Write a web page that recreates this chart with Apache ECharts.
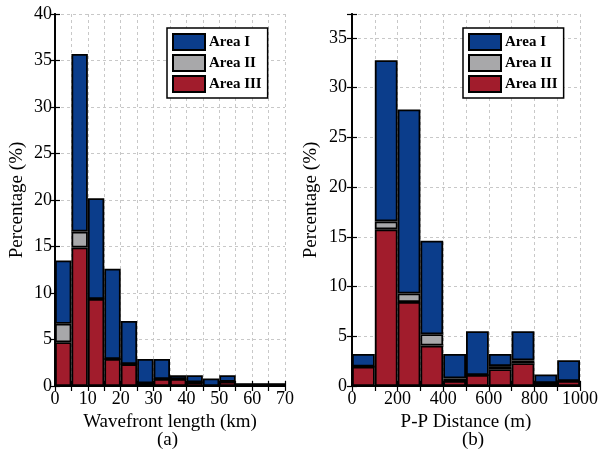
<!DOCTYPE html>
<html>
<head>
<meta charset="utf-8">
<script src="https://cdn.jsdelivr.net/npm/echarts@6/dist/echarts.min.js"></script>
<style>
html,body{margin:0;padding:0;background:#fff;}
#chart{width:601px;height:453px;}
</style>
</head>
<body>
<div id="chart"></div>
<script>
// ---- Data: panel (a) Wavefront length, 5 km bins ----
const binsA = ['0-5','5-10','10-15','15-20','20-25','25-30','30-35','35-40','40-45','45-50','50-55','55-60','60-65','65-70'];
const areaIII_A = [4.7, 14.9, 9.35, 2.9, 2.35, 0.3, 0.75, 0.75, 0.4, 0, 0.45, 0, 0, 0];
const areaII_A  = [2.0, 1.7, 0, 0, 0, 0, 0, 0, 0, 0, 0, 0, 0, 0];
const areaI_A   = [6.8, 19.1, 10.85, 9.7, 4.65, 2.6, 2.15, 0.4, 0.75, 0.8, 0.7, 0.3, 0.3, 0.3];

// ---- Data: panel (b) P-P Distance, 100 m bins ----
const binsB = ['0-100','100-200','200-300','300-400','400-500','500-600','600-700','700-800','800-900','900-1000'];
const areaIII_B = [1.95, 15.75, 8.45, 4.06, 0.5, 1.1, 1.68, 2.28, 0.3, 0.5];
const areaII_B  = [0, 0.8, 0.85, 1.14, 0.27, 0, 0.32, 0.3, 0, 0];
const areaI_B   = [1.27, 16.2, 18.5, 9.4, 2.45, 4.4, 1.22, 2.92, 0.85, 2.1];

const legendNames = ['Area I', 'Area II', 'Area III'];
const xTicksA = {min: 0, max: 70, step: 5, labelStep: 10};
const xTicksB = {min: 0, max: 1000, step: 100, labelStep: 200};
const yTicksA = {min: 0, max: 40, step: 5};
const yTicksB = {min: 0, max: 37.4, step: 5};

const FONT = 'Liberation Serif';
const COLORS = {'Area I': '#0b3d8b', 'Area II': '#a8a8aa', 'Area III': '#a11c2c'};

const chart = echarts.init(document.getElementById('chart'));

function boxAxisLine() { return {show: true, lineStyle: {color: '#000', width: 1.8}}; }
function tick() { return {show: true, inside: true, length: 5, lineStyle: {color: '#000', width: 1.2}}; }
const dashed = {show: true, lineStyle: {color: '#c8c8c8', type: [3, 3], width: 1}};
const labelStyle = {color: '#000', fontFamily: FONT, fontSize: 18};

function xAxesFor(g, t, name) {
  return [
    {type: 'value', gridIndex: g, position: 'bottom', min: t.min, max: t.max, interval: t.step,
     name: name, nameLocation: 'middle', nameGap: 22,
     nameTextStyle: {color: '#000', fontFamily: FONT, fontSize: 19},
     axisLine: boxAxisLine(), axisTick: tick(), splitLine: dashed,
     axisLabel: Object.assign({margin: 4, showMaxLabel: true, showMinLabel: true,
       formatter: v => (Math.round(v) % t.labelStep === 0 ? String(v) : '')}, labelStyle)},
    {type: 'value', gridIndex: g, position: 'top', min: t.min, max: t.max, interval: t.step,
     axisLine: boxAxisLine(), axisTick: tick(), splitLine: {show: false}, axisLabel: {show: false}},
  ];
}
function yAxesFor(g, t, gap, margin) {
  return [
    {type: 'value', gridIndex: g, position: 'left', min: t.min, max: t.max, interval: t.step,
     name: 'Percentage (%)', nameLocation: 'middle', nameGap: gap,
     nameTextStyle: {color: '#000', fontFamily: FONT, fontSize: 19},
     axisLine: boxAxisLine(), axisTick: tick(), splitLine: dashed,
     axisLabel: Object.assign({margin: margin, showMaxLabel: true,
       formatter: v => (Math.abs(v % t.step) < 1e-9 ? String(v) : '')}, labelStyle)},
    {type: 'value', gridIndex: g, position: 'right', min: t.min, max: t.max, interval: t.step,
     axisLine: boxAxisLine(), axisTick: tick(), splitLine: {show: false}, axisLabel: {show: false}},
  ];
}

function barSeries(name, data, xIdx, yIdx, stack) {
  return {
    type: 'bar', name: name, data: data, stack: stack,
    xAxisIndex: xIdx, yAxisIndex: yIdx,
    barCategoryGap: '0%', barGap: '0%',
    itemStyle: {color: COLORS[name], borderColor: '#000', borderWidth: 1.8},
    emphasis: {disabled: true}, animation: false
  };
}

function legendAt(left) {
  return {
    data: legendNames, left: left, top: 28, orient: 'vertical',
    itemWidth: 32, itemHeight: 16, itemGap: 3, icon: 'rect',
    padding: [5, 6, 5, 5], borderColor: '#000', borderWidth: 1.5, backgroundColor: '#fff',
    selectedMode: false,
    textStyle: {color: '#000', fontFamily: FONT, fontWeight: 'bold', fontSize: 15, padding: [0, 0, 0, -1]}
  };
}

const xA = xAxesFor(0, xTicksA, 'Wavefront length (km)');
const xB = xAxesFor(1, xTicksB, 'P-P Distance (m)');
const catA = {type: 'category', gridIndex: 0, data: binsA, show: false, boundaryGap: true};
const catB = {type: 'category', gridIndex: 1, data: binsB, show: false, boundaryGap: true};

const option = {
  backgroundColor: '#fff',
  animation: false,
  grid: [
    {left: 55, top: 14, width: 230, height: 372, containLabel: false},
    {left: 352, top: 14, width: 231, height: 372, containLabel: false}
  ],
  // xAxis indices: 0 bottom A, 1 top A, 2 cat A, 3 bottom B, 4 top B, 5 cat B
  xAxis: [xA[0], xA[1], catA, xB[0], xB[1], catB],
  yAxis: [...yAxesFor(0, yTicksA, 28, 3), ...yAxesFor(1, yTicksB, 31, 5)],
  legend: [legendAt(167), legendAt(463)],
  series: [
    barSeries('Area III', areaIII_A, 2, 0, 'a'),
    barSeries('Area II', areaII_A, 2, 0, 'a'),
    barSeries('Area I', areaI_A, 2, 0, 'a'),
    barSeries('Area III', areaIII_B, 5, 2, 'b'),
    barSeries('Area II', areaII_B, 5, 2, 'b'),
    barSeries('Area I', areaI_B, 5, 2, 'b')
  ],
  graphic: [
    {type: 'text', left: 157, top: 431, style: {text: '(a)', fill: '#000', font: '19px "Liberation Serif"'}},
    {type: 'text', left: 462, top: 431, style: {text: '(b)', fill: '#000', font: '19px "Liberation Serif"'}}
  ]
};
chart.setOption(option);
</script>
</body>
</html>
